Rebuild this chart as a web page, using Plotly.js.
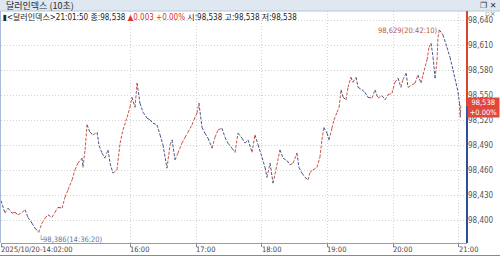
<!DOCTYPE html>
<html>
<head>
<meta charset="utf-8">
<script src="https://cdn.plot.ly/plotly-3.0.1.min.js"></script>
<style>html,body{margin:0;padding:0;background:#fff;}#chart{width:500px;height:257px;}</style>
</head>
<body>
<div id="chart"></div>
<script>
// ---- data ----
const times = [
"14:02:00","14:05:30","14:08:20","14:12:00","14:14:40","14:17:30","14:21:10","14:23:50","14:26:30","14:30:10",
"14:33:00","14:36:20","14:39:20","14:42:10","14:44:50","14:48:30","14:51:10","14:54:00","14:57:40","15:00:20",
"15:03:10","15:06:50","15:09:30","15:12:10","15:15:50","15:16:50","15:18:40","15:20:30","15:23:10","15:26:00",
"15:29:40","15:31:30","15:34:10","15:36:50","15:39:40","15:41:30","15:44:10","15:47:50","15:50:40","15:53:20",
"15:57:00","15:59:40","16:01:30","16:04:20","16:06:10","16:08:50","16:11:40","16:15:20","16:18:00","16:20:40",
"16:24:20","16:27:10","16:29:50","16:33:30","16:36:20","16:38:10","16:40:50","16:43:30","16:47:10","16:50:00",
"16:52:40","16:56:20","16:58:10","17:00:50","17:02:40","17:05:30","17:08:10","17:11:00","17:14:40","17:17:20",
"17:20:10","17:23:40","17:26:30","17:29:10","17:32:50","17:35:40","17:38:20","17:42:00","17:44:50","17:47:30",
"17:51:10","17:53:50","17:56:40","18:00:20","18:03:00","18:04:50","18:07:40","18:10:20","18:13:00","18:16:40",
"18:19:30","18:23:10","18:25:50","18:28:40","18:32:10","18:34:00","18:36:50","18:39:30","18:42:20","18:44:10",
"18:46:50","18:50:30","18:53:10","18:55:00","18:56:50","18:59:40","19:01:30","19:04:10","19:06:00","19:08:50",
"19:10:40","19:12:30","19:14:20","19:17:00","19:18:50","19:21:30","19:23:20","19:26:10","19:28:00","19:31:40",
"19:34:20","19:37:00","19:40:40","19:43:30","19:46:10","19:49:50","19:52:40","19:55:20","19:59:00","20:01:40",
"20:04:30","20:07:10","20:09:00","20:11:50","20:13:40","20:17:20","20:20:00","20:22:40","20:25:30","20:27:20",
"20:31:00","20:32:50","20:34:40","20:36:30","20:38:20","20:40:10","20:41:00","20:42:10","20:45:30","20:49:10",
"20:52:00","20:54:40","20:57:30","20:59:20","21:00:40","21:01:20","21:01:50"
];
const values = [
98.424,98.409,98.415,98.409,98.410,98.407,98.410,98.413,98.404,98.397,
98.391,98.386,98.397,98.403,98.407,98.404,98.410,98.416,98.415,98.428,
98.437,98.449,98.461,98.469,98.475,98.464,98.485,98.515,98.506,98.503,
98.506,98.490,98.481,98.475,98.485,98.469,98.457,98.461,98.493,98.509,
98.524,98.536,98.548,98.536,98.565,98.541,98.530,98.523,98.521,98.517,
98.515,98.503,98.491,98.463,98.491,98.497,98.473,98.481,98.493,98.500,
98.506,98.515,98.521,98.529,98.541,98.512,98.505,98.499,98.487,98.500,
98.509,98.511,98.500,98.493,98.487,98.482,98.505,98.499,98.493,98.497,
98.482,98.503,98.491,98.476,98.464,98.452,98.469,98.445,98.461,98.485,
98.475,98.472,98.467,98.469,98.481,98.464,98.457,98.452,98.449,98.458,
98.461,98.464,98.476,98.497,98.512,98.505,98.497,98.511,98.521,98.530,
98.536,98.557,98.548,98.545,98.560,98.572,98.566,98.572,98.560,98.557,
98.554,98.548,98.547,98.557,98.547,98.550,98.545,98.551,98.553,98.566,
98.571,98.560,98.569,98.577,98.560,98.563,98.565,98.575,98.565,98.575,
98.593,98.608,98.613,98.596,98.571,98.593,98.620,98.629,98.623,98.608,
98.596,98.581,98.565,98.554,98.541,98.524,98.538
];
const tradeDate = "2025-10-20";
const yTickVals = [98.400,98.430,98.460,98.490,98.520,98.550,98.580,98.610,98.640];
const xTickTimes = ["14:02:00","16:00:00","17:00:00","18:00:00","19:00:00","20:00:00","21:00:00"];
const xTickLabels = ["2025/10/20-14:02:00","16:00","17:00","18:00","19:00","20:00","21:00"];
const chartTitle = "달러인덱스 (10초)";
const lastPrice = 98.538, lastChange = "▲0.003", lastPct = "+0.00%", lastTime = "21:01:50";
const maxLabel = "98,629(20:42:10)", minLabel = "98,386(14:36:20)";

// ---- geometry helpers ----
const W = 500, H = 257;
const M = {l: 1, r: 33, t: 11, b: 14};
const PW = W - M.l - M.r, PH = H - M.t - M.b;
const xp = px => (px - M.l) / PW;
const yp = py => 1 - (py - M.t) / PH;
const ts = t => tradeDate + " " + t;

const X = times.map(ts);
const yRange = [98.3732, 98.6516];

// segments coloured by direction
const up = {x: [], y: []}, dn = {x: [], y: []};
for (let i = 1; i < X.length; i++) {
  const tgt = values[i] >= values[i - 1] ? up : dn;
  tgt.x.push(X[i - 1], X[i], null);
  tgt.y.push(values[i - 1], values[i], null);
}
const RED = "#cc5446", BLUE = "#44578a";
const NARROW = "Liberation Sans Narrow, DejaVu Sans Condensed, Noto Sans CJK KR, sans-serif";

const traces = [
  {type: "scatter", mode: "lines", x: up.x, y: up.y, line: {color: RED, width: 1, dash: "3px,1.5px"}, connectgaps: false, hoverinfo: "skip", showlegend: false},
  {type: "scatter", mode: "lines", x: dn.x, y: dn.y, line: {color: BLUE, width: 1, dash: "3px,1.5px"}, connectgaps: false, hoverinfo: "skip", showlegend: false}
];

const iMax = values.indexOf(Math.max(...values));
const iMin = values.indexOf(Math.min(...values));

const annotations = [
  {xref: "paper", yref: "paper", x: xp(4), y: yp(5.5), xanchor: "left", yanchor: "middle", showarrow: false,
   text: chartTitle, font: {family: "Noto Sans CJK KR", size: 9, color: "#2b2b2b"}},
  {xref: "paper", yref: "paper", x: xp(498), y: yp(5.5), xanchor: "right", yanchor: "middle", showarrow: false,
   text: "❐ ✕", font: {family: "DejaVu Sans", size: 8, color: "#333"}},
  {xref: "paper", yref: "paper", x: xp(1), y: yp(17), xanchor: "left", yanchor: "middle", showarrow: false,
   text: "▮&lt;달러인덱스&gt;" + lastTime + " 종:98,538 <span style='color:#d8332a'>" + lastChange + " " + lastPct + "</span> 시:98,538 고:98,538 저:98,538",
   font: {family: NARROW, size: 8, color: "#222"}},
  {xref: "paper", yref: "paper", x: xp(498), y: yp(14.5), xanchor: "right", yanchor: "middle", showarrow: false,
   text: "▫×", font: {family: "DejaVu Sans", size: 7, color: "#777"}},
  {x: X[iMax], y: values[iMax], xref: "x", yref: "y", text: maxLabel, showarrow: true, arrowhead: 2, arrowsize: 0.6,
   arrowwidth: 1, arrowcolor: "#b5584d", ax: -31, ay: 1, font: {family: NARROW, size: 7.5, color: "#b5584d"}},
  {x: X[iMin], y: values[iMin], xref: "x", yref: "y", text: "└" + minLabel, showarrow: false, xanchor: "left", yanchor: "top",
   xshift: -2, yshift: 0, font: {family: NARROW, size: 7.5, color: "#5b7aa6"}},
  {xref: "paper", yref: "y", x: 1 + 33 / PW, y: lastPrice, xanchor: "right", yanchor: "middle", showarrow: false,
   text: "98,538<br>" + lastPct, bgcolor: "#e2483a", borderpad: 0, width: 31, align: "center", yshift: -1.5,
   font: {family: NARROW, size: 7.5, color: "#fff"}}
];
xTickTimes.forEach((t, i) => {
  annotations.push({xref: "x", yref: "paper", x: ts(t), y: yp(249), xanchor: "left", yanchor: "middle", showarrow: false,
    xshift: -2, text: xTickLabels[i], font: {family: NARROW, size: 7.5, color: "#444"}});
});

const shapes = [
  // title bar
  {type: "rect", xref: "paper", yref: "paper", x0: xp(0), x1: xp(500), y0: yp(0), y1: yp(11), fillcolor: "#dfe7f1", line: {width: 0}, layer: "below"},
  {type: "line", xref: "paper", yref: "paper", x0: xp(0), x1: xp(500), y0: yp(11), y1: yp(11), line: {color: "#b9c6d6", width: 1}},
  // left border
  {type: "line", xref: "paper", yref: "paper", x0: xp(0.5), x1: xp(0.5), y0: yp(11), y1: yp(243), line: {color: "#a9bbd6", width: 1}},
  // bottom border
  {type: "line", xref: "paper", yref: "paper", x0: xp(0), x1: xp(500), y0: yp(255.5), y1: yp(255.5), line: {color: "#8a8a8a", width: 1}},
  // right axis coloured at last price
  {type: "line", xref: "paper", yref: "y", x0: 1, x1: 1, y0: lastPrice, y1: yRange[1], line: {color: "#d9432f", width: 2}},
  {type: "line", xref: "paper", yref: "y", x0: 1, x1: 1, y0: yRange[0], y1: lastPrice, line: {color: "#2d4f93", width: 2}}
];

const layout = {
  width: W, height: H, margin: {l: M.l, r: M.r, t: M.t, b: M.b, pad: 0},
  paper_bgcolor: "#fff", plot_bgcolor: "#fff", separators: ",.", showlegend: false,
  font: {family: NARROW, size: 8, color: "#444"},
  xaxis: {type: "date", range: [ts("14:01:55"), ts("21:07:30")], tickvals: xTickTimes.map(ts), showticklabels: false,
    ticks: "outside", ticklen: 3, tickcolor: "#888", showgrid: true, gridcolor: "#d2d2d2", griddash: "1px,2px",
    showline: true, linecolor: "#9c9c9c", linewidth: 1, zeroline: false, fixedrange: true},
  yaxis: {side: "right", range: yRange, tickvals: yTickVals, tickformat: ".3f", ticks: "", showgrid: true,
    gridcolor: "#d2d2d2", griddash: "1px,2px", zeroline: false, showline: false,
    tickfont: {family: NARROW, size: 8, color: "#555"}, fixedrange: true},
  annotations: annotations, shapes: shapes
};

Plotly.newPlot("chart", traces, layout, {staticPlot: true, displayModeBar: false});
</script>
</body>
</html>
